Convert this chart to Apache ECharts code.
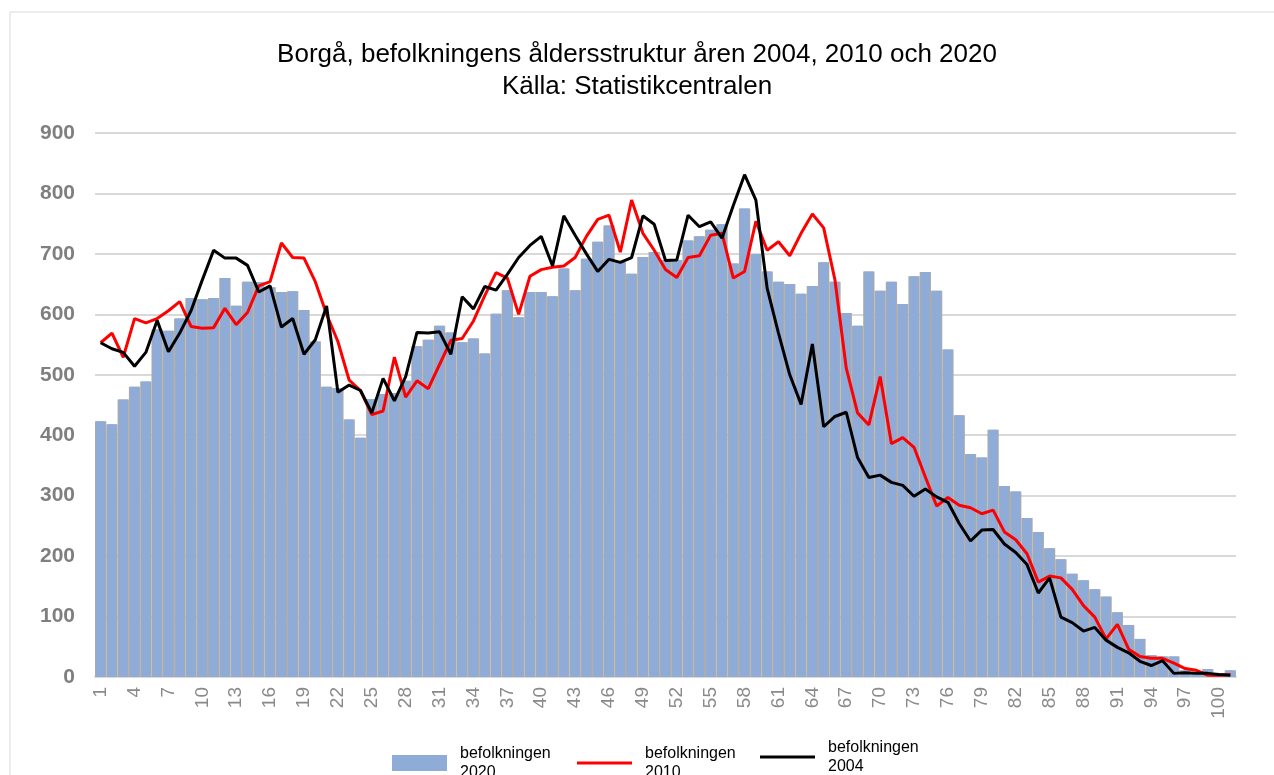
<!DOCTYPE html>
<html>
<head>
    <meta charset="utf-8">
    <script src="https://cdn.jsdelivr.net/npm/echarts@6/dist/echarts.min.js"></script>
    <style>
        html, body { margin: 0; padding: 0; background: #fff; }
    </style>
</head>

<body>
    <div id="main" style="width:1274px; height:775px;"></div>
</body>

<script type="text/javascript">

    // ages 1..101 (x categories)
    const ages = [
        '1','2','3','4','5','6','7','8','9','10',
        '11','12','13','14','15','16','17','18','19','20',
        '21','22','23','24','25','26','27','28','29','30',
        '31','32','33','34','35','36','37','38','39','40',
        '41','42','43','44','45','46','47','48','49','50',
        '51','52','53','54','55','56','57','58','59','60',
        '61','62','63','64','65','66','67','68','69','70',
        '71','72','73','74','75','76','77','78','79','80',
        '81','82','83','84','85','86','87','88','89','90',
        '91','92','93','94','95','96','97','98','99','100',
        '101'
    ];

    // befolkningen 2020 (bars)
    const pop2020 = [
        423, 418, 459, 480, 489, 575, 573, 593, 627, 625,
        627, 660, 614, 654, 653, 645, 637, 638, 607, 555,
        480, 478, 426, 396, 460, 468, 470, 490, 547, 558,
        581, 570, 554, 560, 535, 601, 640, 595, 637, 637,
        630, 676, 640, 692, 720, 747, 686, 667, 695, 703,
        690, 690, 722, 729, 740, 749, 684, 775, 700, 671,
        654, 650, 634, 647, 686, 654, 602, 581, 671, 639,
        654, 617, 663, 670, 639, 542, 433, 369, 363, 409,
        316, 307, 263, 240, 213, 195, 171, 160, 145, 133,
        107, 86, 63, 36, 34, 34, 11, 9, 13, 6,
        11
    ];

    // befolkningen 2010 (red line)
    const pop2010 = [
        553, 569, 529, 593, 586, 593, 606, 621, 580, 577,
        578, 610, 583, 603, 647, 654, 718, 694, 693, 654,
        600, 555, 491, 474, 434, 440, 529, 463, 490, 477,
        517, 557, 560, 589, 631, 669, 660, 600, 663, 674,
        678, 680, 694, 729, 757, 764, 703, 789, 734, 706,
        674, 661, 694, 697, 731, 734, 660, 671, 754, 706,
        720, 697, 734, 766, 743, 657, 511, 437, 417, 497,
        386, 396, 380, 331, 283, 297, 284, 280, 270, 276,
        240, 227, 204, 157, 167, 164, 145, 118, 99, 63,
        87, 46, 34, 31, 31, 23, 14, 11, 3, 3,
        4
    ];

    // befolkningen 2004 (black line)
    const pop2004 = [
        553, 543, 537, 514, 537, 590, 538, 569, 606, 657,
        706, 693, 693, 681, 637, 647, 579, 593, 534, 558,
        614, 471, 483, 474, 437, 494, 457, 497, 570, 569,
        571, 534, 629, 609, 646, 640, 666, 694, 714, 729,
        680, 763, 731, 700, 671, 691, 686, 694, 763, 749,
        689, 690, 764, 745, 753, 726, 780, 831, 789, 643,
        569, 500, 451, 551, 414, 431, 438, 363, 330, 334,
        322, 317, 299, 311, 298, 289, 254, 225, 243, 244,
        220, 206, 186, 139, 164, 99, 90, 76, 82, 61,
        49, 40, 26, 19, 27, 6, 7, 6, 6, 4,
        3
    ];

    const seriesNames = ['befolkningen 2020', 'befolkningen 2010', 'befolkningen 2004'];

    const myChart = echarts.init(document.getElementById('main'));

    // one legend per series so each icon can have its own height
    function legendFor(name, left, top, iconHeight) {
        return {
            data: [{ name: name, icon: 'rect' }],
            left: left,
            top: top,
            itemWidth: 55,
            itemHeight: iconHeight,
            formatter: n => n.replace(' ', '\n'),
            textStyle: {
                fontSize: 16,
                color: '#000',
                lineHeight: 19,
                padding: [0, 0, 0, 8]
            }
        };
    }

    const option = {
        animation: false,
        textStyle: { fontFamily: 'Liberation Sans, Arial, sans-serif' },
        title: {
            text: 'Borgå, befolkningens åldersstruktur åren 2004, 2010 och 2020\nKälla: Statistikcentralen',
            left: 'center',
            top: 34,
            textStyle: {
                fontSize: 26,
                fontWeight: 'normal',
                color: '#000',
                lineHeight: 32
            }
        },
        graphic: [{
            type: 'rect',
            shape: { x: 10, y: 12, width: 1290, height: 800 },
            style: { fill: 'none', stroke: '#d9d9d9', lineWidth: 1 },
            silent: true
        }],
        legend: [
            legendFor(seriesNames[0], 387, 739, 16),
            legendFor(seriesNames[1], 572, 739, 3),
            legendFor(seriesNames[2], 755, 733, 3)
        ],
        grid: {
            left: 95,
            right: 38,
            top: 133,
            bottom: 98
        },
        xAxis: [{
            type: 'category',
            data: ages,
            axisLine: { lineStyle: { color: '#d9d9d9', width: 2 } },
            axisTick: { show: false },
            axisLabel: {
                interval: 2,
                rotate: 90,
                fontSize: 19,
                color: '#8a8a8a',
                margin: 10
            }
        }, {
            type: 'category',
            data: ages,
            show: false
        }],
        yAxis: {
            type: 'value',
            min: 0,
            max: 900,
            interval: 100,
            axisLine: { show: false },
            axisTick: { show: false },
            axisLabel: {
                fontSize: 21,
                fontWeight: 'bold',
                color: '#7f7f7f',
                margin: 20
            },
            splitLine: { lineStyle: { color: '#d9d9d9', width: 2 } }
        },
        series: [
            {
                // gray seams between the bars
                type: 'bar',
                xAxisIndex: 1,
                data: pop2020,
                barCategoryGap: '0%',
                itemStyle: { color: '#ababab' },
                silent: true,
                z: 1
            },
            {
                name: seriesNames[0],
                type: 'bar',
                data: pop2020,
                barCategoryGap: '20%',
                itemStyle: { color: '#8fabd8' },
                z: 2
            },
            {
                name: seriesNames[1],
                type: 'line',
                data: pop2010,
                symbol: 'none',
                lineStyle: { color: '#ff0000', width: 3 },
                itemStyle: { color: '#ff0000' },
                z: 3
            },
            {
                name: seriesNames[2],
                type: 'line',
                data: pop2004,
                symbol: 'none',
                lineStyle: { color: '#000000', width: 3 },
                itemStyle: { color: '#000000' },
                z: 4
            }
        ]
    };

    option && myChart.setOption(option);
</script>
</html>
